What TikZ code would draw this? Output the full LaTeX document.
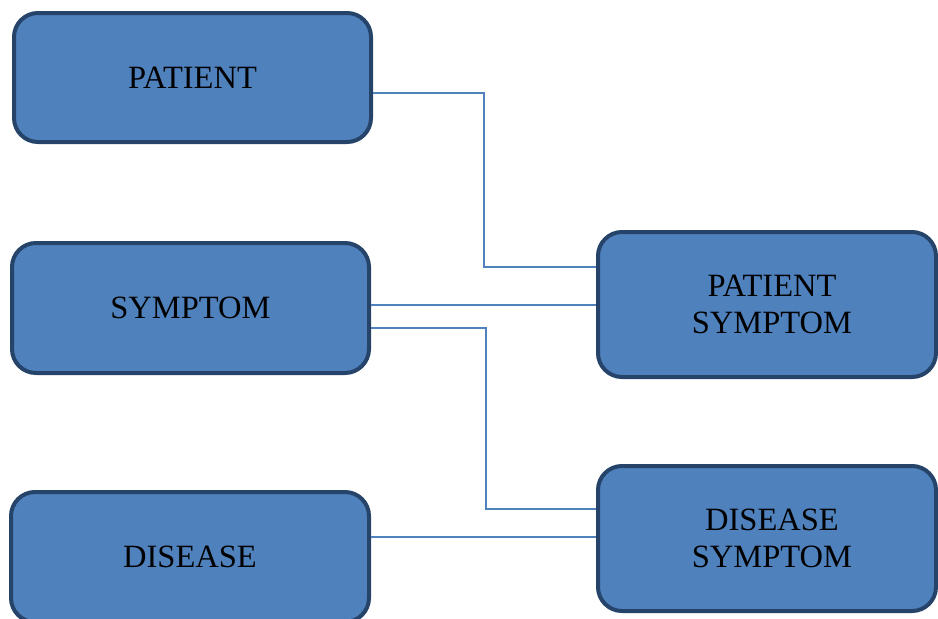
\documentclass[tikz,border=0pt]{standalone}
\usepackage{fontspec}
\setmainfont{Liberation Serif}
\definecolor{boxfill}{HTML}{4F81BD}
\definecolor{boxline}{HTML}{264469}
\definecolor{connline}{HTML}{4F81BD}
\newcommand{\rsh}{\hspace*{10pt}}
\begin{document}
\begin{tikzpicture}[x=1pt,y=-1pt,
  entity/.style={draw=boxline, fill=boxfill, line width=4pt, rounded corners=24pt,
    rectangle, inner sep=0pt, align=center, text=black,
    font=\fontsize{32.5}{37}\selectfont},
  conn/.style={draw=connline, line width=1.5pt}]
\useasboundingbox (0,0) rectangle (938,619);
\clip (0,0) rectangle (938,619);
\node[entity, minimum width=357pt, minimum height=129pt] (p) at (192.5,77.5) {PATIENT};
\node[entity, minimum width=357pt, minimum height=130pt] (s) at (190.5,308) {SYMPTOM};
\node[entity, minimum width=358pt, minimum height=130pt] (d) at (190,557) {DISEASE};
\node[entity, minimum width=338pt, minimum height=145pt] (ps) at (767,304.5) {\rsh PATIENT\\\rsh SYMPTOM};
\node[entity, minimum width=338pt, minimum height=145pt] (ds) at (767,538.5) {\rsh DISEASE\\\rsh SYMPTOM};
\draw[conn] ([yshift=-15.5pt]p.east) -- (484,93) -- (484,267) -- ([yshift=37.5pt]ps.west);
\coordinate (a) at ([yshift=3pt]s.east);
\draw[conn] (a) -- (a -| ps.west);
\draw[conn] ([yshift=-20pt]s.east) -- (486,328) -- (486,509) -- ([yshift=29.5pt]ds.west);
\coordinate (b) at ([yshift=20pt]d.east);
\draw[conn] (b) -- (b -| ds.west);
\end{tikzpicture}
\end{document}
